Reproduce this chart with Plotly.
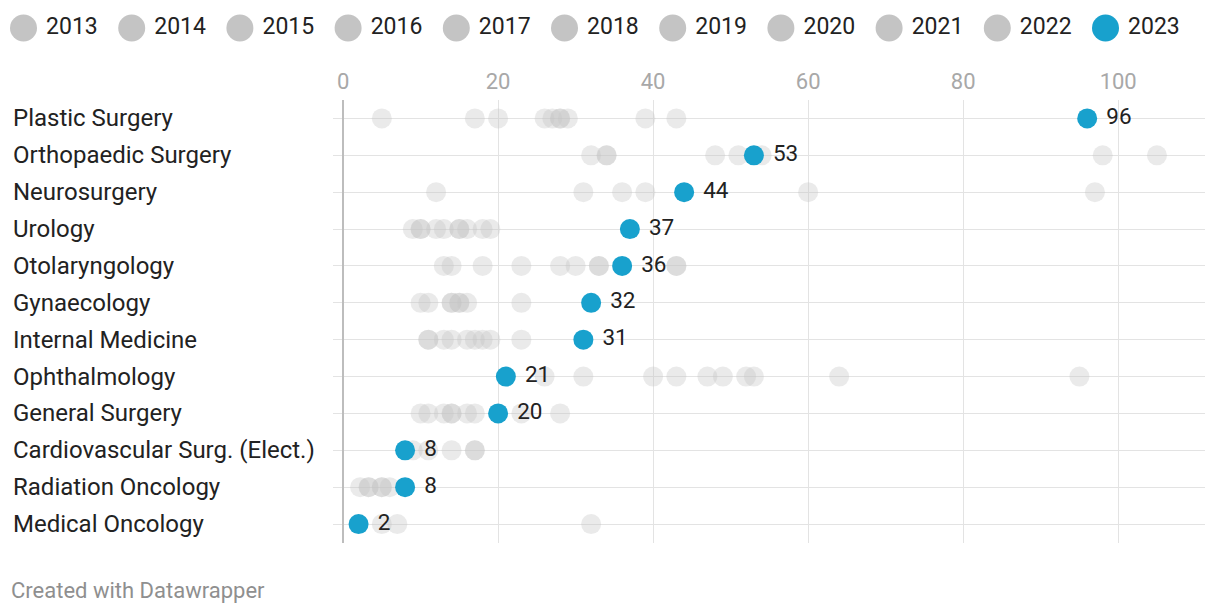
import plotly.graph_objects as go

categories = ["Plastic Surgery", "Orthopaedic Surgery", "Neurosurgery", "Urology",
              "Otolaryngology", "Gynaecology", "Internal Medicine", "Ophthalmology",
              "General Surgery", "Cardiovascular Surg. (Elect.)", "Radiation Oncology",
              "Medical Oncology"]

years = ["2013", "2014", "2015", "2016", "2017", "2018", "2019", "2020", "2021", "2022", "2023"]

y2013 = [5, 32, 12, 9, 13, 10, 11, 26, 10, 9, 2.2, 5]
y2014 = [17, 34, 31, 10, 14, 11, 11, 31, 11, 11, 3.3, 7]
y2015 = [20, 34, 36, 10, 18, 14, 13, 40, 13, 14, 3.3, 32]
y2016 = [26, 48, 39, 12, 23, 14, 14, 43, 14, 17, 5, None]
y2017 = [27, 51, 60, 13, 28, 15, 16, 47, 14, 17, 5, None]
y2018 = [28, 54, 97, 15, 30, 15, 17, 49, 16, None, 6, None]
y2019 = [28, 98, None, 15, 33, 16, 18, 52, 17, None, None, None]
y2020 = [29, 105, None, 16, 33, 23, 19, 53, 23, None, None, None]
y2021 = [39, None, None, 18, 43, None, 23, 64, 28, None, None, None]
y2022 = [43, None, None, 19, 43, None, None, 95, None, None, None, None]
y2023 = [96, 53, 44, 37, 36, 32, 31, 21, 20, 8, 8, 2]

grey_years = [y2013, y2014, y2015, y2016, y2017, y2018, y2019, y2020, y2021, y2022]

xticks = [0, 20, 40, 60, 80, 100]

BLUE = "#18a1cd"
GREY = "#c4c4c4"
FONT = "Roboto"

W, H = 1220, 614

fig = go.Figure()

for vals, yr in zip(grey_years, years[:-1]):
    fig.add_trace(go.Scatter(
        x=vals, y=categories, mode="markers", name=yr, showlegend=False,
        marker=dict(size=20, color=GREY, opacity=0.36, line=dict(width=0)),
        hoverinfo="x+name",
    ))

fig.add_trace(go.Scatter(
    x=y2023, y=categories, mode="markers+text", name="2023", showlegend=False,
    marker=dict(size=20, color=BLUE, line=dict(width=0)),
    text=["\u00a0" + str(v) for v in y2023], textposition="middle right",
    textfont=dict(family=FONT, size=22.5, color="#222222"),
    cliponaxis=False,
))

# legend row drawn as its own small subplot
fig.add_trace(go.Scatter(
    x=list(range(len(years))), y=[0] * len(years), xaxis="x2", yaxis="y2",
    mode="markers+text", showlegend=False,
    marker=dict(size=27, color=[GREY] * (len(years) - 1) + [BLUE], line=dict(width=0)),
    text=["\u2009" + y for y in years], textposition="middle right",
    textfont=dict(family=FONT, size=23, color="#222222"),
    cliponaxis=False, hoverinfo="skip",
))

for c in categories:
    fig.add_annotation(x=11 / W, xref="paper", xanchor="left", y=c, yref="y",
                       text=c, showarrow=False,
                       font=dict(family=FONT, size=24, color="#222222"))

fig.add_annotation(x=9 / W, xref="paper", xanchor="left", y=(H - 590) / H, yref="paper",
                   yanchor="middle", text="Created with Datawrapper", showarrow=False,
                   font=dict(family=FONT, size=22, color="#8f8f8f"))

fig.update_layout(
    width=W, height=H,
    margin=dict(l=0, r=0, t=0, b=0),
    paper_bgcolor="white", plot_bgcolor="white",
    font=dict(family=FONT),
    xaxis=dict(
        domain=[333 / W, 1205 / W], range=[-1.3, 111.2], side="top",
        tickvals=xticks, ticktext=[str(v) for v in xticks],
        tickfont=dict(family=FONT, size=22, color="#a8a8a8"),
        showgrid=True, gridcolor="#e3e3e3", gridwidth=1,
        zeroline=True, zerolinecolor="#bdbdbd", zerolinewidth=2,
        showline=False, ticks="", ticklabelstandoff=6, fixedrange=True,
    ),
    yaxis=dict(
        domain=[(H - 542.5) / H, (H - 100) / H],
        categoryorder="array", categoryarray=categories,
        range=[11.5, -0.5], showticklabels=False,
        showgrid=True, gridcolor="#e3e3e3", gridwidth=1,
        zeroline=False, showline=False, ticks="", fixedrange=True,
    ),
    xaxis2=dict(domain=[0, 1], range=[-23.5 / 108.2, (W - 23.5) / 108.2], visible=False,
                anchor="y2", fixedrange=True),
    yaxis2=dict(domain=[(H - 47) / H, (H - 9) / H], range=[-1, 1], visible=False,
                anchor="x2", fixedrange=True),
)

fig.write_html("out.html", config={"displayModeBar": False},
               post_script="document.body.style.margin='0';document.body.style.padding='0';")
